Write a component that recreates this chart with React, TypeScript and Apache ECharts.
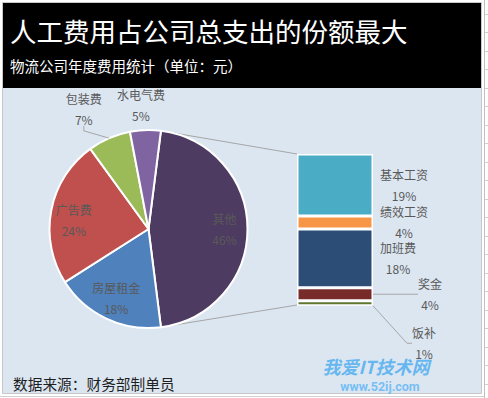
import React, { useEffect, useRef } from 'react';
import * as echarts from 'echarts';

// ---------- data ----------
const titleText = '人工费用占公司总支出的份额最大';
const subtitleText = '物流公司年度费用统计（单位：元）';
const sourceText = '数据来源：财务部制单员';
const watermarkTitle = '我爱IT技术网';
const watermarkUrl = 'www.52ij.com';

const pieNames = ['其他', '房屋租金', '广告费', '包装费', '水电气费'];
const pieValues = [46, 18, 24, 7, 5];

const barNames = ['基本工资', '绩效工资', '加班费', '奖金', '饭补'];
const barValues = [19, 4, 18, 4, 1];

// ---------- styles / layout ----------
const FONT = '"Noto Sans CJK SC", "Noto Sans", sans-serif';
const pieColors = ['#4e3b62', '#4f81bd', '#c0504d', '#9bbb59', '#8064a2'];
const barColors = ['#4bacc6', '#f79646', '#2c4d75', '#772c2a', '#5f7530'];
const LABEL_COLOR = '#595959';
const LINE_COLOR = '#a6a6a6';

const CX = 148.5;
const CY = 229;
const R = 99;
const GRID = { left: 297, top: 154, width: 76, height: 150 };

// labels placed outside the pie: [radial distance, angular shift in degrees]
const outsidePieLabels: Record<string, [number, number]> = {
  包装费: [136, -5],
  水电气费: [124, -1.7],
};
// small nudges of inside pie labels: [dx, dy]
const insidePieLabelShift: Record<string, [number, number]> = {
  广告费: [0, 5],
};
const pieLeaderItems = ['包装费'];
// bar labels moved away from the bar: [dx, dy]
const barLabelShift: Record<string, [number, number]> = {
  奖金: [38, 0],
  饭补: [32, 40],
};

const pieTotal = pieValues.reduce((a, b) => a + b, 0);
const barTotal = barValues.reduce((a, b) => a + b, 0);
const startAngle = (pieValues[0] / pieTotal) * 180;

function midAngleFromTop(i: number) {
  let cum = 0;
  for (let j = 0; j < i; j++) cum += pieValues[j];
  const startTop = 90 - startAngle;
  return startTop + ((cum + pieValues[i] / 2) / pieTotal) * 360;
}

const richLabel = {
  n: {
    fontSize: 12,
    lineHeight: 14,
    color: LABEL_COLOR,
    align: 'center',
    fontFamily: FONT,
  },
  s: {
    fontSize: 1,
    lineHeight: 7,
    color: 'rgba(0,0,0,0)',
  },
};

const twoLine = (a: string, b: string) => `{n|${a}}\n{s| }\n{n|${b}}`;

export default function App() {
  const ref = useRef<HTMLDivElement>(null);

  useEffect(() => {
    const chart = echarts.init(ref.current!, null, { renderer: 'svg' });

    const a0 = (startAngle * Math.PI) / 180;
    const pieTop = [CX + R * Math.cos(a0), CY - R * Math.sin(a0)];
    const pieBottom = [CX + R * Math.cos(a0), CY + R * Math.sin(a0)];
    const barTop = [GRID.left, GRID.top];
    const barBottom = [GRID.left, GRID.top + GRID.height + 1];

    const ticks: any[] = [];
    for (let y = 13.5; y < 398; y += 18.5) {
      ticks.push({
        type: 'line',
        z: -5,
        shape: { x1: 485, y1: Math.round(y) + 0.5, x2: 488, y2: Math.round(y) + 0.5 },
        style: { stroke: '#d0d0d0', lineWidth: 1 },
      });
    }

    const option: any = {
      animation: false,
      backgroundColor: '#ffffff',
      grid: { left: GRID.left, top: GRID.top, width: GRID.width, height: GRID.height },
      xAxis: { type: 'category', data: [''], show: false },
      yAxis: { type: 'value', min: 0, max: barTotal, inverse: true, show: false },
      graphic: [
        {
          type: 'rect',
          z: -10,
          shape: { x: 2.5, y: 2.5, width: 479, height: 391 },
          style: { fill: '#dce6f1', stroke: '#c8c8c8', lineWidth: 1 },
        },
        {
          type: 'rect',
          z: -9,
          shape: { x: 3, y: 3, width: 478, height: 85 },
          style: { fill: '#000000' },
        },
        {
          type: 'line',
          z: -5,
          shape: { x1: 484.5, y1: 0, x2: 484.5, y2: 398 },
          style: { stroke: '#c0c0c0', lineWidth: 1 },
        },
        {
          type: 'line',
          z: -5,
          shape: { x1: 0, y1: 396.5, x2: 484, y2: 396.5 },
          style: { stroke: '#d0d0d0', lineWidth: 1 },
        },
        ...ticks,
        {
          type: 'text',
          z: 10,
          style: {
            text: titleText,
            x: 10,
            y: 30,
            fill: '#ffffff',
            fontSize: 26.5,
            fontFamily: FONT,
            verticalAlign: 'middle',
          },
        },
        {
          type: 'text',
          z: 10,
          style: {
            text: subtitleText,
            x: 10,
            y: 65,
            fill: '#ffffff',
            fontSize: 14.5,
            fontFamily: FONT,
            verticalAlign: 'middle',
          },
        },
        {
          type: 'text',
          z: 10,
          style: {
            text: sourceText,
            x: 13,
            y: 383,
            fill: '#1f1f1f',
            fontSize: 14.7,
            fontFamily: FONT,
            verticalAlign: 'middle',
          },
        },
        {
          type: 'line',
          z: 1,
          shape: { x1: pieTop[0], y1: pieTop[1], x2: barTop[0], y2: barTop[1] },
          style: { stroke: LINE_COLOR, lineWidth: 1 },
        },
        {
          type: 'line',
          z: 1,
          shape: { x1: pieBottom[0], y1: pieBottom[1], x2: barBottom[0], y2: barBottom[1] },
          style: { stroke: LINE_COLOR, lineWidth: 1 },
        },
        {
          type: 'text',
          z: 100,
          style: {
            text: watermarkTitle,
            x: 376,
            y: 366,
            fill: 'rgba(70,170,240,0.8)',
            fontSize: 18,
            fontWeight: 'bold',
            fontStyle: 'italic',
            fontFamily: FONT,
            align: 'center',
            verticalAlign: 'middle',
          },
        },
        {
          type: 'text',
          z: 100,
          style: {
            text: watermarkUrl,
            x: 380,
            y: 386,
            fill: 'rgba(90,180,245,0.8)',
            fontSize: 12.5,
            fontWeight: 'bold',
            fontFamily: 'Roboto, sans-serif',
            align: 'center',
            verticalAlign: 'middle',
          },
        },
      ],
      series: [
        {
          type: 'pie',
          center: [CX, CY],
          radius: R,
          startAngle,
          clockwise: true,
          silent: true,
          z: 2,
          label: { show: false },
          labelLine: { show: false },
          itemStyle: { borderColor: '#ffffff', borderWidth: 2 },
          data: pieNames.map((n, i) => ({
            name: n,
            value: pieValues[i],
            itemStyle: { color: pieColors[i] },
          })),
        },
        {
          type: 'pie',
          center: [CX, CY],
          radius: [R * 0.475, R],
          startAngle,
          clockwise: true,
          silent: true,
          avoidLabelOverlap: false,
          z: 3,
          itemStyle: { color: 'rgba(0,0,0,0)', borderWidth: 0 },
          emphasis: { disabled: true },
          label: {
            show: true,
            position: 'inside',
            color: LABEL_COLOR,
            textBorderWidth: 0,
            formatter: (p: any) => twoLine(p.name, `${Math.round(p.percent)}%`),
            rich: richLabel,
          },
          labelLine: { show: false },
          labelLayout: (params: any) => {
            const name = pieNames[params.dataIndex];
            const pos = outsidePieLabels[name];
            if (!pos) {
              const s = insidePieLabelShift[name];
              return s ? { dx: s[0], dy: s[1] } : {};
            }
            const ang = ((midAngleFromTop(params.dataIndex) + pos[1]) * Math.PI) / 180;
            return {
              x: CX + pos[0] * Math.sin(ang),
              y: CY - pos[0] * Math.cos(ang),
              align: 'center',
              verticalAlign: 'middle',
            };
          },
          data: pieNames.map((n, i) => ({
            name: n,
            value: pieValues[i],
            label: { position: outsidePieLabels[n] ? 'outside' : 'inside' },
            labelLine: {
              show: pieLeaderItems.includes(n),
              length: 10,
              length2: 5,
              lineStyle: { color: LINE_COLOR, width: 1 },
            },
          })),
        },
        ...barNames.map((n, i) => {
          const shift = barLabelShift[n];
          return {
            type: 'bar',
            name: n,
            stack: 'other',
            barWidth: '100%',
            barMinHeight: 5,
            clip: false,
            silent: true,
            z: 4,
            data: [barValues[i]],
            itemStyle: { color: barColors[i], borderColor: '#ffffff', borderWidth: 1.5 },
            label: {
              show: true,
              position: 'right',
              distance: 7,
              formatter: (p: any) =>
                twoLine(p.seriesName, `${Math.round((p.value / pieTotal) * 100)}%`),
              rich: richLabel,
            },
            labelLine: {
              show: !!shift,
              length2: 5,
              lineStyle: { color: LINE_COLOR, width: 1 },
            },
            labelLayout: shift ? { dx: shift[0], dy: shift[1] } : undefined,
          };
        }),
      ],
    };

    chart.setOption(option);
    return () => chart.dispose();
  }, []);

  return (
    <div
      ref={ref}
      style={{ position: 'fixed', left: 0, top: 0, width: 488, height: 398 }}
    />
  );
}
